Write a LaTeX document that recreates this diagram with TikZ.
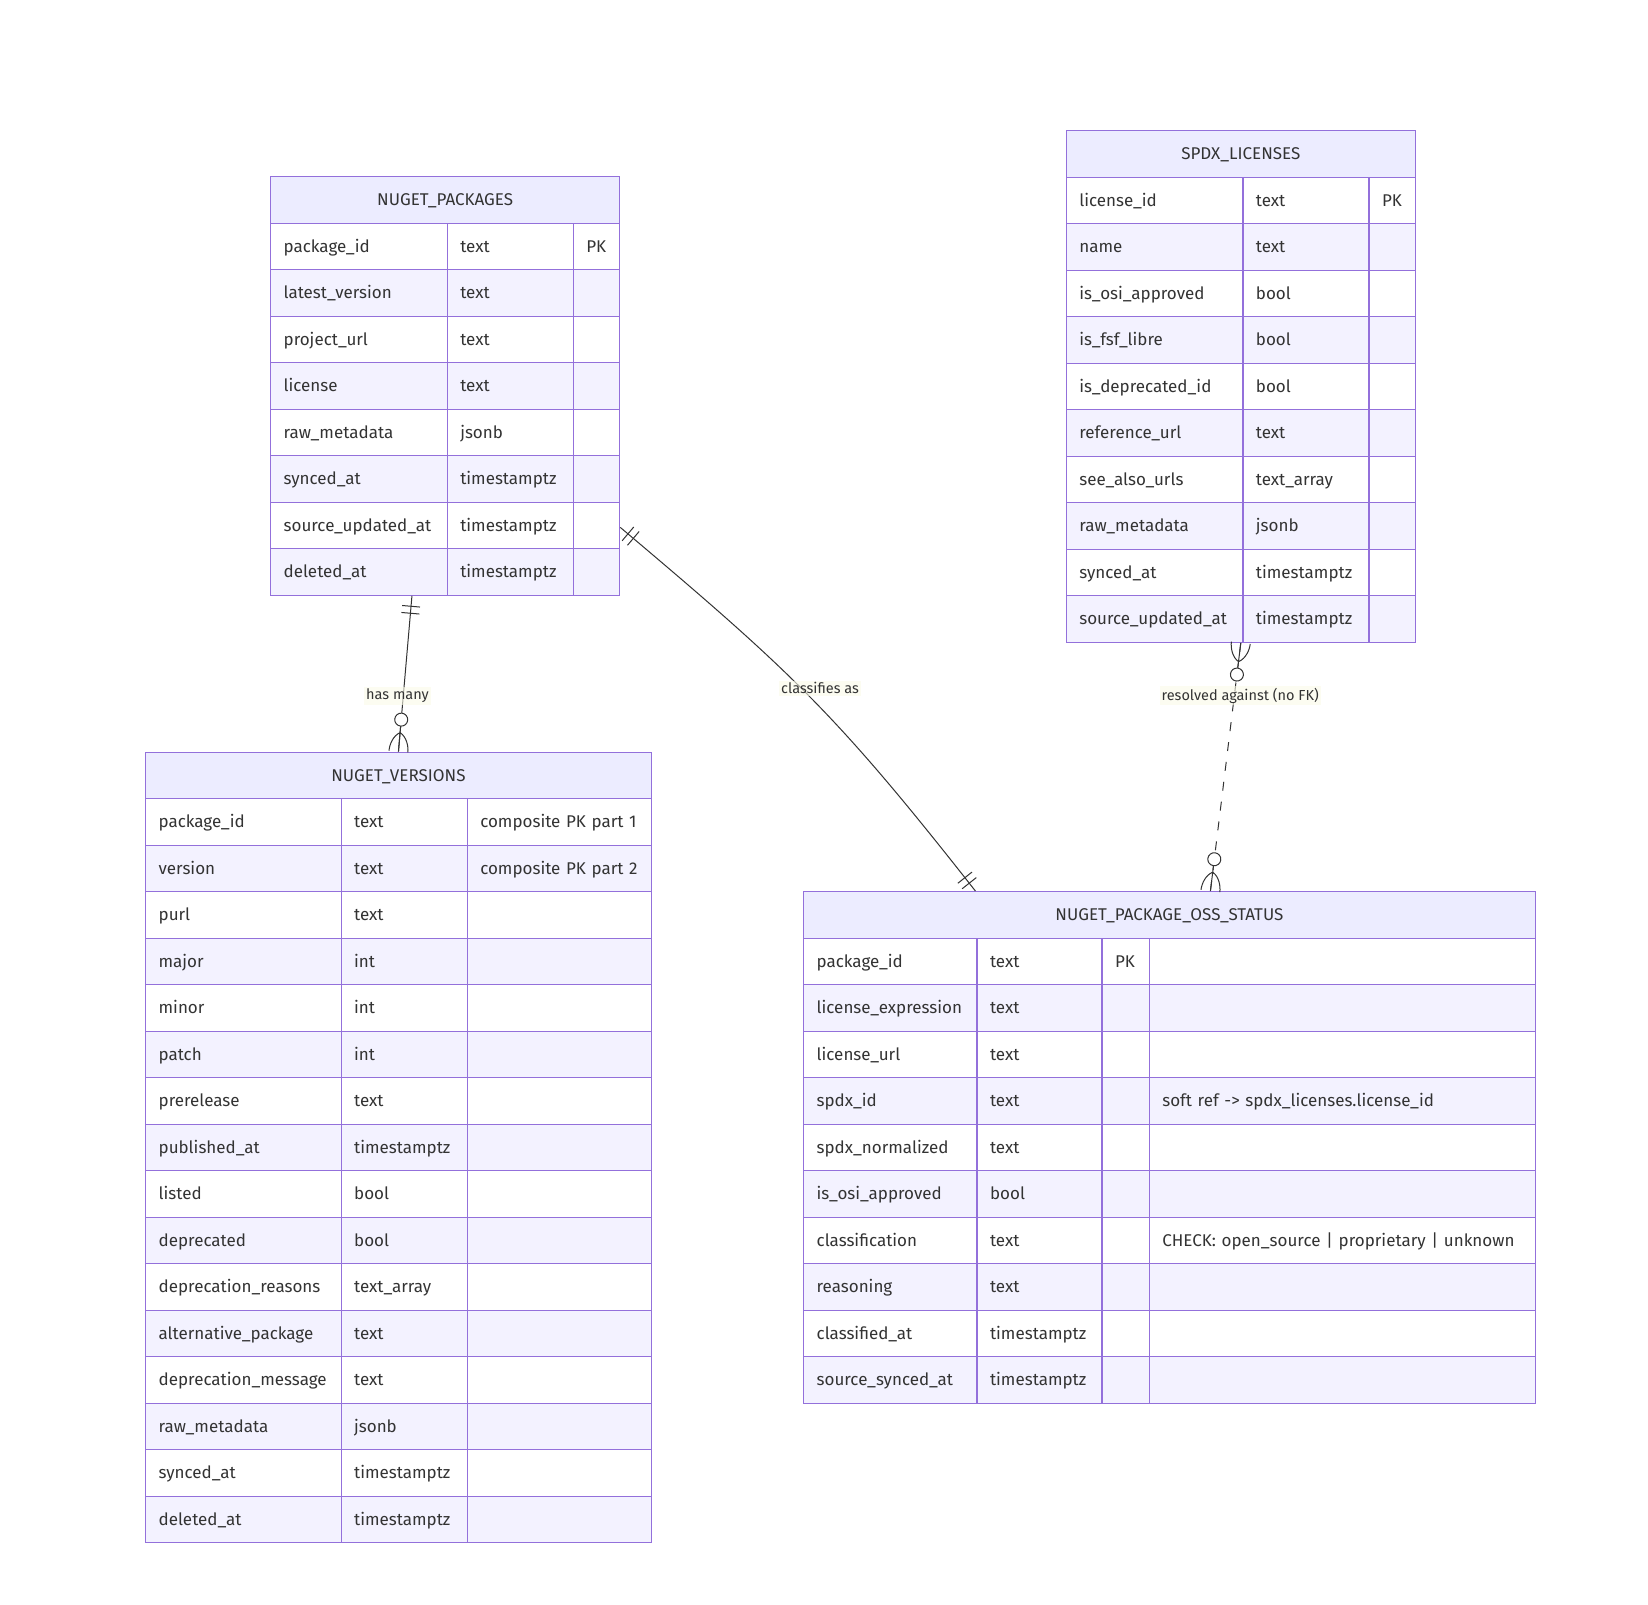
\documentclass[tikz,border=0pt]{standalone}
\usepackage{fontspec}
\setmainfont{Fira Sans}
\usepackage{tikz}
\usetikzlibrary{calc,decorations.markings}
\definecolor{erborder}{HTML}{9370DB}
\definecolor{erhead}{HTML}{ECECFF}
\definecolor{errow}{HTML}{F3F2FF}
\definecolor{erink}{HTML}{333333}
\definecolor{labelbg}{HTML}{FAFAE8}

\begin{document}
\begin{tikzpicture}[x=1pt, y=-1pt,
    every node/.style={font=\fontsize{17}{20}\selectfont, text=erink},
    ehead/.style={rectangle, draw=erborder, line width=1.3pt, fill=erhead, anchor=north west,
        minimum height=46.5pt, inner sep=0pt, text height=15.5pt, text depth=3.5pt},
    ecell/.style={rectangle, draw=erborder, line width=1.3pt, anchor=north west, align=left,
        minimum height=46.5pt, inner xsep=13pt, inner ysep=0pt, text height=15.5pt, text depth=3.5pt},
    elabel/.style={fill=labelbg, fill opacity=0.6, text opacity=1, inner sep=2pt,
        font=\fontsize{14.5}{17}\selectfont},
    rel/.style={draw=erink, line width=1pt},
    one/.style={postaction={decorate, decoration={markings,
        mark=at position #1 with {\draw[erink, solid] (0,-9pt) -- (0,9pt);}}}},
    zero/.style={postaction={decorate, decoration={markings,
        mark=at position #1 with {\draw[erink, solid, fill=white] (0,0) circle (6.5pt);}}}},
    many start/.style={postaction={decorate, decoration={markings,
        mark=at position 0 with {\draw[erink, solid] (0,0) -- (25pt,0)
            (19pt,0) .. controls (15pt,7pt) and (6pt,9.5pt) .. (0,9.5pt)
            (19pt,0) .. controls (15pt,-7pt) and (6pt,-9.5pt) .. (0,-9.5pt);}}}},
    many end/.style={postaction={decorate, decoration={markings,
        mark=at position 1 with {\draw[erink, solid] (-25pt,0) -- (0,0)
            (-19pt,0) .. controls (-15pt,7pt) and (-6pt,9.5pt) .. (0,9.5pt)
            (-19pt,0) .. controls (-15pt,-7pt) and (-6pt,-9.5pt) .. (0,-9.5pt);}}}}
]

\fill[white] (0,0) rectangle (1648,1604);
\useasboundingbox (0,0) rectangle (1648,1604);

% NUGET_PACKAGES
\node[ehead, minimum width=349pt] (np-h) at (270,176) {NUGET\_PACKAGES};
\foreach \i in {2,4,...,8}
    \fill[errow] (270,{176+46.5*\i}) rectangle ++(349,46.5);
\foreach [count=\i] \fname/\ftype/\fkey in {package\_id/text/PK, latest\_version/text/{},
        project\_url/text/{}, license/text/{}, raw\_metadata/jsonb/{}, synced\_at/timestamptz/{},
        source\_updated\_at/timestamptz/{}, deleted\_at/timestamptz/{}} {
    \node[ecell, text width=150.6pt] (np-\i-a) at (270,{176+46.5*\i}) {\fname};
    \node[ecell, text width=100.1pt] (np-\i-b) at (446.6,{176+46.5*\i}) {\ftype};
    \node[ecell, text width=20.3pt] (np-\i-c) at (572.7,{176+46.5*\i}) {\fkey};
}

% SPDX_LICENSES
\node[ehead, minimum width=348.9pt] (spdx-h) at (1065.7,130) {SPDX\_LICENSES};
\foreach \i in {2,4,...,10}
    \fill[errow] (1065.7,{130+46.5*\i}) rectangle ++(348.9,46.5);
\foreach [count=\i] \fname/\ftype/\fkey in {license\_id/text/PK, name/text/{},
        is\_osi\_approved/bool/{}, is\_fsf\_libre/bool/{}, is\_deprecated\_id/bool/{},
        reference\_url/text/{}, see\_also\_urls/text\_array/{}, raw\_metadata/jsonb/{},
        synced\_at/timestamptz/{}, source\_updated\_at/timestamptz/{}} {
    \node[ecell, text width=150.6pt] (spdx-\i-a) at (1065.7,{130+46.5*\i}) {\fname};
    \node[ecell, text width=100.1pt] (spdx-\i-b) at (1242.3,{130+46.5*\i}) {\ftype};
    \node[ecell, text width=20.2pt] (spdx-\i-c) at (1368.4,{130+46.5*\i}) {\fkey};
}

% NUGET_VERSIONS
\node[ehead, minimum width=505.6pt] (nv-h) at (145,751.5) {NUGET\_VERSIONS};
\foreach \i in {2,4,...,16}
    \fill[errow] (145,{751.5+46.5*\i}) rectangle ++(505.6,46.5);
\foreach [count=\i] \fname/\ftype/\fkey in {package\_id/text/composite PK part 1,
        version/text/composite PK part 2, purl/text/{}, major/int/{}, minor/int/{},
        patch/int/{}, prerelease/text/{}, published\_at/timestamptz/{}, listed/bool/{},
        deprecated/bool/{}, deprecation\_reasons/text\_array/{}, alternative\_package/text/{},
        deprecation\_message/text/{}, raw\_metadata/jsonb/{}, synced\_at/timestamptz/{},
        deleted\_at/timestamptz/{}} {
    \node[ecell, text width=169.5pt] (nv-\i-a) at (145,{751.5+46.5*\i}) {\fname};
    \node[ecell, text width=100.1pt] (nv-\i-b) at (340.5,{751.5+46.5*\i}) {\ftype};
    \node[ecell, text width=158pt] (nv-\i-c) at (466.6,{751.5+46.5*\i}) {\fkey};
}

% NUGET_PACKAGE_OSS_STATUS
\node[ehead, minimum width=731.5pt] (oss-h) at (803,891) {NUGET\_PACKAGE\_OSS\_STATUS};
\foreach \i in {2,4,...,10}
    \fill[errow] (803,{891+46.5*\i}) rectangle ++(731.5,46.5);
\foreach [count=\i] \fname/\ftype/\fkey/\fnote in {package\_id/text/PK/{},
        license\_expression/text/{}/{}, license\_url/text/{}/{},
        spdx\_id/text/{}/soft ref -> spdx\_licenses.license\_id, spdx\_normalized/text/{}/{},
        is\_osi\_approved/bool/{}/{}, classification/text/{}/CHECK: open\_source | proprietary | unknown,
        reasoning/text/{}/{}, classified\_at/timestamptz/{}/{}, source\_synced\_at/timestamptz/{}/{}} {
    \node[ecell, text width=147.4pt] (oss-\i-a) at (803,{891+46.5*\i}) {\fname};
    \node[ecell, text width=99pt] (oss-\i-b) at (976.4,{891+46.5*\i}) {\ftype};
    \node[ecell, text width=21.3pt] (oss-\i-c) at (1101.4,{891+46.5*\i}) {\fkey};
    \node[ecell, text width=359.8pt] (oss-\i-d) at (1148.7,{891+46.5*\i}) {\fnote};
}

% relationships
\coordinate (hm-s) at ([xshift=53pt]np-8-a.south);
\draw[rel, one=10.5pt, one=17.5pt, zero=-32pt, many end] (hm-s) -- (nv-h.north);

\coordinate (cl-s) at ([yshift=-2pt]np-7-c.east);
\coordinate (cl-e) at ([xshift=-194pt]oss-h.north);
\draw[rel, one=10pt, one=17pt, one=-10pt, one=-17pt]
    (cl-s) .. controls +(172,145) and +(-139,-177) .. (cl-e);

\coordinate (rs-s) at (spdx-h.south |- spdx-10-a.south);
\coordinate (rs-e) at ([xshift=41pt]oss-h.north);
\draw[rel, dash pattern=on 9pt off 11pt, many start, zero=32pt, zero=-32pt, many end] (rs-s) -- (rs-e);

% labels
\node[elabel] (lb-hm) at (397.5,695.8) {has many};
\node[elabel] (lb-cl) at (820,688.4) {classifies as};
\node[elabel] (lb-rs) at (1240.2,695.8) {resolved against (no FK)};

\end{tikzpicture}
\end{document}
